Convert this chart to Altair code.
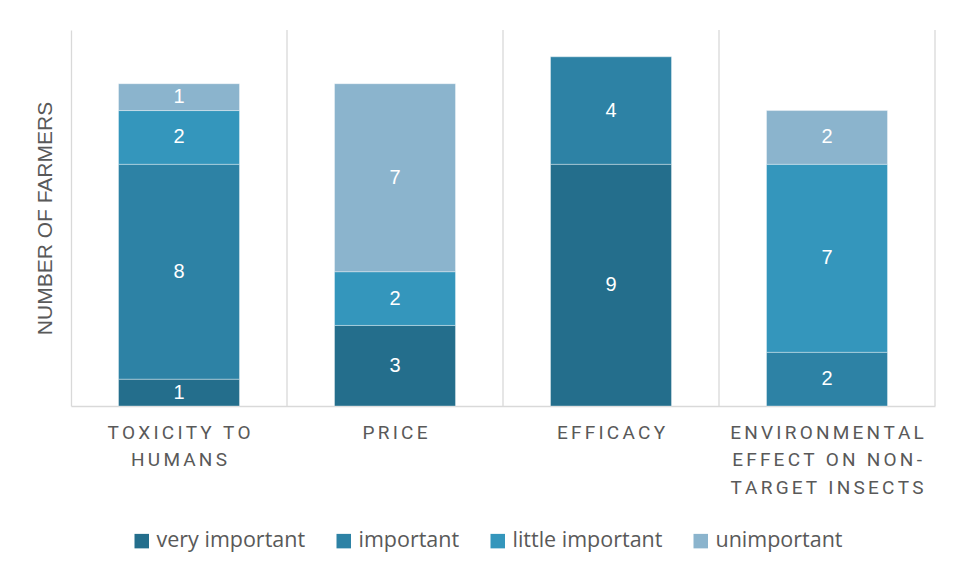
import altair as alt
import pandas as pd

categories = ["TOXICITY TO|HUMANS", "PRICE", "EFFICACY", "ENVIRONMENTAL|EFFECT ON NON-|TARGET INSECTS"]
levels = ["very important", "important", "little important", "unimportant"]
colors = ["#246E8C", "#2D82A5", "#3496BC", "#8BB4CD"]

very_important = [1, 3, 9, 0]
important = [8, 0, 4, 2]
little_important = [2, 2, 0, 7]
unimportant = [1, 7, 0, 2]

series = [very_important, important, little_important, unimportant]
rows = []
for li, (lvl, vals) in enumerate(zip(levels, series)):
    for c, v in zip(categories, vals):
        if v > 0:
            rows.append({"cat": c, "level": lvl, "order": li, "value": v})
df = pd.DataFrame(rows)

W, H = 864, 376
xscale = alt.Scale(domain=categories, paddingInner=0, paddingOuter=0)
SP = "\u2006"
label_expr = ("split(replace(datum.label, regexp('(.)(?=.)', 'g'), '$1" + SP + "'), '"
              + SP + "|" + SP + "')")

base = alt.Chart(df).transform_stack(
    stack="value", groupby=["cat"], as_=["y0", "y1"], sort=[alt.SortField("order", order="ascending")]
).transform_calculate(mid="(datum.y0 + datum.y1) / 2")

bars = base.mark_bar(width=alt.RelativeBandSize(0.56), stroke="#ffffff", strokeOpacity=0.35, strokeWidth=1).encode(
    x=alt.X("cat:N", scale=xscale, sort=categories,
            axis=alt.Axis(title=None, labelAngle=0, labelExpr=label_expr, labelAlign="center",
                          labelFont="Roboto", labelFontSize=19, labelColor="#595959",
                          labelPadding=17, labelLineHeight=27.5, ticks=False, grid=False,
                          labelLimit=400, labelOverlap=False,
                          domainColor="#d9d9d9", domainWidth=1.3, labelBaseline="top")),
    y=alt.Y("y0:Q", scale=alt.Scale(domain=[0, 14], nice=False),
            axis=alt.Axis(title="NUMBER OF FARMERS", labels=False, ticks=False, grid=False,
                          domainColor="#d9d9d9", domainWidth=1.3, titleFont="Liberation Sans",
                          titleFontSize=21, titleFontWeight="normal", titleColor="#595959",
                          titlePadding=16)),
    y2="y1:Q",
    color=alt.Color("level:N", scale=alt.Scale(domain=levels, range=colors),
                    legend=alt.Legend(title=None, orient="none", direction="horizontal",
                                      legendX=60, legendY=500, symbolType="square",
                                      symbolSize=210, symbolStrokeWidth=0,
                                      labelFont="Open Sans", labelFontSize=21.5, labelColor="#595959",
                                      columnPadding=27, labelOffset=4, symbolOpacity=1,
                                      labelLimit=400)),
)

labels = base.mark_text(color="white", font="Liberation Sans", fontSize=20, baseline="middle").encode(
    x=alt.X("cat:N", scale=xscale, sort=categories),
    y=alt.Y("mid:Q"),
    text=alt.Text("value:Q"),
)

seps = alt.Chart(pd.DataFrame({"cat": categories[1:]})).mark_rule(color="#d9d9d9", strokeWidth=1.3).encode(
    x=alt.X("cat:N", scale=xscale, sort=categories, bandPosition=0),
    y=alt.value(0), y2=alt.value(H),
)
right_edge = alt.Chart(pd.DataFrame({"cat": [categories[-1]]})).mark_rule(color="#d9d9d9", strokeWidth=1.3).encode(
    x=alt.X("cat:N", scale=xscale, sort=categories, bandPosition=1),
    y=alt.value(0), y2=alt.value(H),
)

chart = alt.layer(seps, right_edge, bars, labels).properties(
    width=W, height=H,
    autosize=alt.AutoSizeParams(type="none"),
    padding={"left": 63, "top": 22, "right": 22, "bottom": 163},
    background="white",
).configure_view(stroke=None)

chart.save("out.html", embed_options={"renderer": "svg", "actions": False})
